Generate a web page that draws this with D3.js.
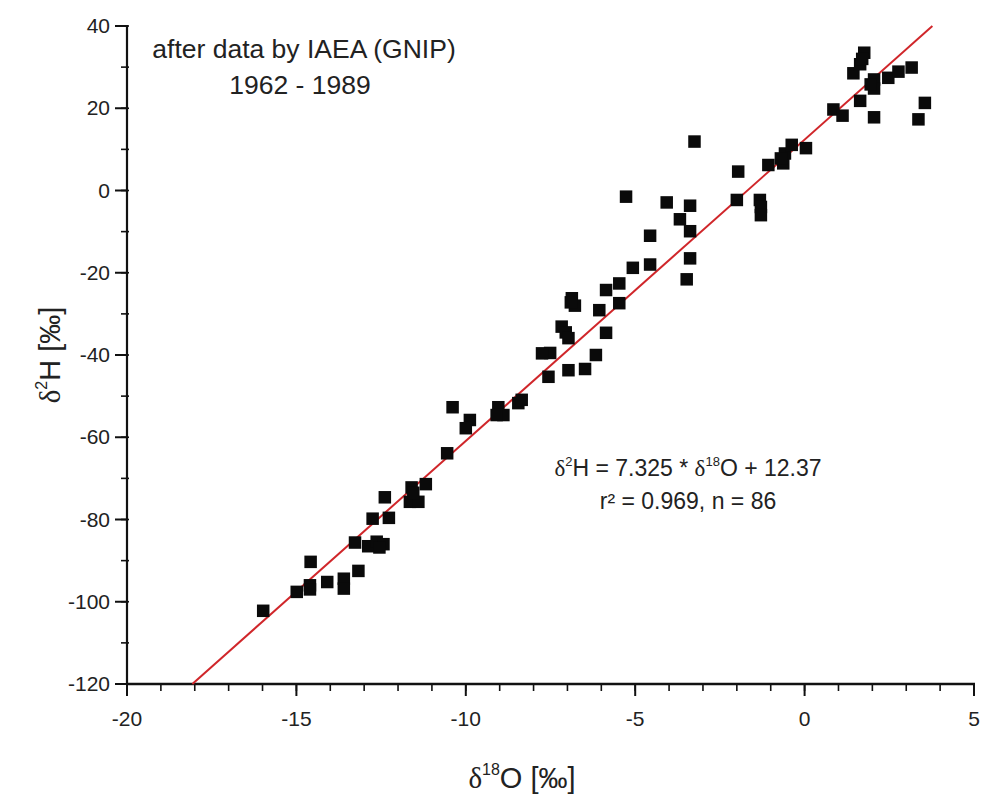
<!DOCTYPE html>
<html><head><meta charset="utf-8">
<script src="https://cdn.jsdelivr.net/npm/d3@7"></script>
<style>body{margin:0;background:#fff}text{font-family:"Liberation Sans",Arial,sans-serif;fill:#222}</style>
</head><body>
<svg id="chart" width="985" height="794"></svg>
<script>
const xTicks = [-20, -15, -10, -5, 0, 5];
const yTicks = [-120, -100, -80, -60, -40, -20, 0, 20, 40];
const d18O = [-15.98,-14.99,-14.6,-14.58,-14.09,-13.6,-13.6,-13.17,-13.27,-12.88,-12.63,-12.43,-12.75,-12.27,-12.39,-11.6,-11.65,-11.4,-11.18,-10.55,-10.39,-9.88,-10.0,-9.04,-8.89,-9.09,-8.45,-8.35,
 -7.56,-7.51,-7.75,-7.17,-7.05,-6.97,-6.97,-6.48,-6.16,-5.86,-6.87,-6.78,-6.06,-5.86,-5.47,-5.47,-5.07,-4.56,-4.56,-5.27,-4.07,-3.38,-3.68,-3.38,-3.38,-3.48,-3.25,
 -1.96,-2.0,-1.32,-1.29,-1.29,-1.07,-0.63,-0.58,-0.38,0.04,0.85,1.12,1.64,1.44,1.64,1.76,2.05,2.05,2.47,2.77,3.16,2.05,3.55,3.36,
 1.95,1.7,-0.7,-12.55,-11.55,-6.9,-14.6];
const d2H = [-102.2,-97.6,-96.0,-90.3,-95.2,-94.4,-96.8,-92.5,-85.6,-86.5,-85.4,-86.0,-79.8,-79.6,-74.6,-72.2,-75.7,-75.7,-71.4,-63.9,-52.7,-55.8,-57.8,-52.7,-54.6,-54.6,-51.7,-50.9,
 -45.3,-39.5,-39.6,-33.1,-34.5,-35.9,-43.7,-43.4,-40.0,-34.6,-26.2,-28.0,-29.1,-24.2,-22.6,-27.4,-18.8,-11.0,-18.0,-1.5,-2.9,-3.7,-7.0,-9.9,-16.5,-21.6,11.9,
 4.6,-2.3,-2.3,-4.0,-6.0,6.2,6.6,9.0,11.1,10.3,19.7,18.2,21.8,28.5,30.7,33.5,27.0,24.8,27.4,28.9,29.9,17.8,21.3,17.3,
 25.8,32.0,7.8,-86.8,-73.5,-27.2,-97.0];
const slope = 7.325, intercept = 12.37;
const titleLines = ["after data by IAEA (GNIP)", "1962 - 1989"];

const svg = d3.select("#chart");
const x = d3.scaleLinear().domain([-20, 5]).range([127, 974]);
const y = d3.scaleLinear().domain([-120, 40]).range([684, 26]);

const xMinor = d3.range(-20, 5.01, 1);
const yMinor = d3.range(-120, 40.01, 10);

// X axis
const xAxis = svg.append("g").attr("transform", `translate(0,${y(-120)})`);
xAxis.selectAll("line.minor").data(xMinor).join("line")
  .attr("x1", d => x(d)).attr("x2", d => x(d)).attr("y1", 0).attr("y2", 7)
  .attr("stroke", "#111").attr("stroke-width", 1.6);
xAxis.selectAll("line.major").data(xTicks).join("line")
  .attr("x1", d => x(d)).attr("x2", d => x(d)).attr("y1", 0).attr("y2", 12)
  .attr("stroke", "#111").attr("stroke-width", 2);
xAxis.append("line").attr("x1", x(-20) - 1).attr("x2", x(5) + 1).attr("y1", 0).attr("y2", 0)
  .attr("stroke", "#111").attr("stroke-width", 2.5);
xAxis.selectAll("text").data(xTicks).join("text")
  .attr("x", d => x(d)).attr("y", 42).attr("text-anchor", "middle")
  .attr("font-size", 21).text(d => d);

// Y axis
const yAxis = svg.append("g").attr("transform", `translate(${x(-20)},0)`);
yAxis.selectAll("line.minor").data(yMinor).join("line")
  .attr("x1", -6).attr("x2", 2).attr("y1", d => y(d)).attr("y2", d => y(d))
  .attr("stroke", "#111").attr("stroke-width", 1.6);
yAxis.selectAll("line.major").data(yTicks).join("line")
  .attr("x1", -12).attr("x2", 0).attr("y1", d => y(d)).attr("y2", d => y(d))
  .attr("stroke", "#111").attr("stroke-width", 2);
yAxis.append("line").attr("x1", 0).attr("x2", 0).attr("y1", y(40) - 1).attr("y2", y(-120))
  .attr("stroke", "#111").attr("stroke-width", 2.2);
yAxis.selectAll("text").data(yTicks).join("text")
  .attr("x", -17).attr("y", d => y(d) + 7).attr("text-anchor", "end")
  .attr("font-size", 21).text(d => d);

// regression line
const xStart = (-120 - intercept) / slope;
const xEnd = (40 - intercept) / slope;
svg.append("line")
  .attr("x1", x(xStart)).attr("y1", y(slope * xStart + intercept))
  .attr("x2", x(xEnd)).attr("y2", y(slope * xEnd + intercept))
  .attr("stroke", "#d0262a").attr("stroke-width", 2);

// points
const pts = d18O.map((v, i) => ({x: v, y: d2H[i]}));
const s = 12.5;
svg.append("g").selectAll("rect").data(pts).join("rect")
  .attr("x", d => x(d.x) - s / 2).attr("y", d => y(d.y) - s / 2)
  .attr("width", s).attr("height", s).attr("fill", "#0a0a0a");

// title text
svg.append("text").attr("x", 304).attr("y", 58).attr("text-anchor", "middle")
  .attr("font-size", 26.5).text(titleLines[0]);
svg.append("text").attr("x", 300).attr("y", 94).attr("text-anchor", "middle")
  .attr("font-size", 26.5).text(titleLines[1]);

// equation
const eq = svg.append("text").attr("x", 688).attr("y", 476).attr("text-anchor", "middle").attr("font-size", 23);
eq.append("tspan").attr("font-family", "Liberation Serif").text("δ");
eq.append("tspan").attr("font-size", 13).attr("dy", -10).text("2");
eq.append("tspan").attr("dy", 10).text(`H = ${slope} * `);
eq.append("tspan").attr("font-family", "Liberation Serif").text("δ");
eq.append("tspan").attr("font-size", 13).attr("dy", -10).text("18");
eq.append("tspan").attr("dy", 10).text(`O + ${intercept}`);
svg.append("text").attr("x", 688).attr("y", 509).attr("text-anchor", "middle").attr("font-size", 23)
  .text("r² = 0.969, n = 86");

// axis titles
const xl = svg.append("text").attr("x", 522).attr("y", 788).attr("text-anchor", "middle").attr("font-size", 29);
xl.append("tspan").attr("font-family", "Liberation Serif").text("δ");
xl.append("tspan").attr("font-size", 16).attr("dy", -13).text("18");
xl.append("tspan").attr("dy", 13).text("O [‰]");

const yl = svg.append("text").attr("transform", "translate(60,355) rotate(-90)").attr("text-anchor", "middle").attr("font-size", 29);
yl.append("tspan").attr("font-family", "Liberation Serif").text("δ");
yl.append("tspan").attr("font-size", 16).attr("dy", -13).text("2");
yl.append("tspan").attr("dy", 13).text("H [‰]");
</script>
</body></html>
